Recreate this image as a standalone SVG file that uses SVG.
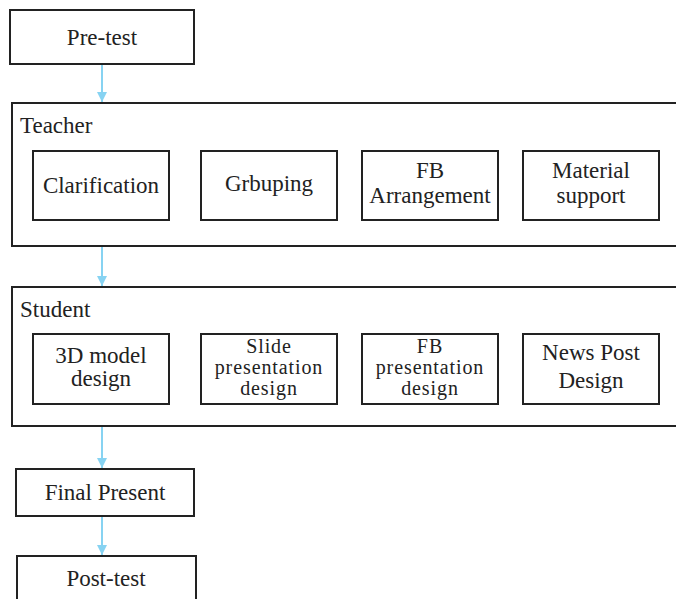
<svg xmlns="http://www.w3.org/2000/svg" width="676" height="599" viewBox="0 0 676 599">
<defs>
<style>
.box{fill:#fff;stroke:#222;stroke-width:2}
.cont{fill:none;stroke:#222;stroke-width:2}
.conn{stroke:#87d3f2;stroke-width:2;fill:none}
</style>
<marker id="ah" viewBox="0 0 10 10" refX="10" refY="5" markerWidth="10" markerHeight="10" markerUnits="userSpaceOnUse" orient="auto">
<path d="M0,0 L10,5 L0,10 z" fill="#87d3f2"/>
</marker>
</defs>
<g id="connectors">
<line class="conn" x1="102" y1="65" x2="102" y2="102" marker-end="url(#ah)"/>
<line class="conn" x1="102" y1="247" x2="102" y2="286" marker-end="url(#ah)"/>
<line class="conn" x1="102" y1="427" x2="102" y2="468" marker-end="url(#ah)"/>
<line class="conn" x1="102" y1="517" x2="102" y2="555" marker-end="url(#ah)"/>
</g>
<g id="pretest">
<rect class="box" x="10" y="10" width="184" height="54"/>
<text font-family="Liberation Serif, serif" font-size="23" fill="#222" text-anchor="middle" x="102" y="45">Pre-test</text>
</g>
<g id="teacher">
<rect class="cont" x="12" y="103" width="670" height="143"/>
<text font-family="Liberation Serif, serif" font-size="23" fill="#222" x="20" y="133">Teacher</text>
</g>
<g id="clarification">
<rect class="box" x="33" y="151" width="136" height="69"/>
<text font-family="Liberation Serif, serif" font-size="23" fill="#222" text-anchor="middle" x="101" y="193">Clarification</text>
</g>
<g id="grbuping">
<rect class="box" x="201" y="151" width="136" height="69"/>
<text font-family="Liberation Serif, serif" font-size="23" fill="#222" text-anchor="middle" x="269" y="191">Grbuping</text>
</g>
<g id="fb-arrangement">
<rect class="box" x="362" y="151" width="136" height="69"/>
<text font-family="Liberation Serif, serif" font-size="23" fill="#222" text-anchor="middle" x="430" y="178">FB</text>
<text font-family="Liberation Serif, serif" font-size="23" fill="#222" text-anchor="middle" x="430" y="203">Arrangement</text>
</g>
<g id="material-support">
<rect class="box" x="523" y="151" width="136" height="69"/>
<text font-family="Liberation Serif, serif" font-size="23" fill="#222" text-anchor="middle" x="591" y="178">Material</text>
<text font-family="Liberation Serif, serif" font-size="23" fill="#222" text-anchor="middle" x="591" y="203">support</text>
</g>
<g id="student">
<rect class="cont" x="12" y="287" width="670" height="139"/>
<text font-family="Liberation Serif, serif" font-size="23" fill="#222" x="20" y="317">Student</text>
</g>
<g id="model-3d">
<rect class="box" x="33" y="334" width="136" height="70"/>
<text font-family="Liberation Serif, serif" font-size="23" fill="#222" text-anchor="middle" x="101" y="363">3D model</text>
<text font-family="Liberation Serif, serif" font-size="23" fill="#222" text-anchor="middle" x="101" y="386">design</text>
</g>
<g id="slide">
<rect class="box" x="201" y="334" width="136" height="70"/>
<text font-family="Liberation Serif, serif" font-size="20" letter-spacing="0.9" fill="#222" text-anchor="middle" x="269" y="353">Slide</text>
<text font-family="Liberation Serif, serif" font-size="20" letter-spacing="0.9" fill="#222" text-anchor="middle" x="269" y="374">presentation</text>
<text font-family="Liberation Serif, serif" font-size="20" letter-spacing="0.9" fill="#222" text-anchor="middle" x="269" y="395">design</text>
</g>
<g id="fb-presentation">
<rect class="box" x="362" y="334" width="136" height="70"/>
<text font-family="Liberation Serif, serif" font-size="20" letter-spacing="0.9" fill="#222" text-anchor="middle" x="430" y="353">FB</text>
<text font-family="Liberation Serif, serif" font-size="20" letter-spacing="0.9" fill="#222" text-anchor="middle" x="430" y="374">presentation</text>
<text font-family="Liberation Serif, serif" font-size="20" letter-spacing="0.9" fill="#222" text-anchor="middle" x="430" y="395">design</text>
</g>
<g id="news-post">
<rect class="box" x="523" y="334" width="136" height="70"/>
<text font-family="Liberation Serif, serif" font-size="23" fill="#222" text-anchor="middle" x="591" y="360">News Post</text>
<text font-family="Liberation Serif, serif" font-size="23" fill="#222" text-anchor="middle" x="591" y="388">Design</text>
</g>
<g id="final-present">
<rect class="box" x="16" y="469" width="178" height="47"/>
<text font-family="Liberation Serif, serif" font-size="23" fill="#222" text-anchor="middle" x="105" y="500">Final Present</text>
</g>
<g id="posttest">
<rect class="box" x="17" y="556" width="179" height="50"/>
<text font-family="Liberation Serif, serif" font-size="23" fill="#222" text-anchor="middle" x="106" y="586">Post-test</text>
</g>
</svg>
